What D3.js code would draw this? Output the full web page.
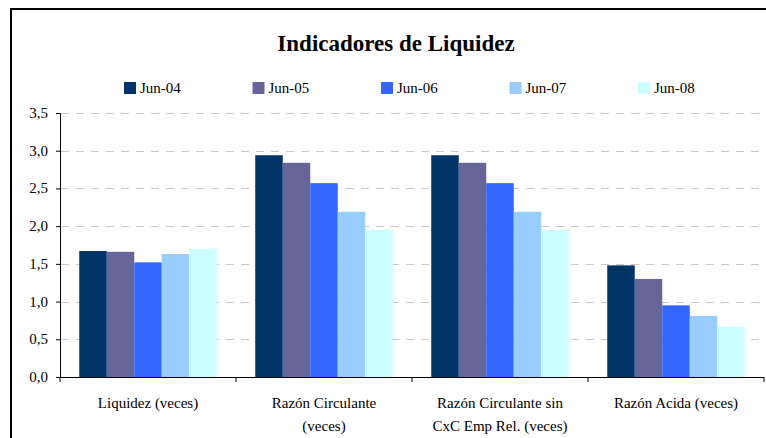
<!DOCTYPE html>
<html>
<head>
<meta charset="utf-8">
<script src="https://cdn.jsdelivr.net/npm/d3@7"></script>
</head>
<body style="margin:0;background:#fff">
<div id="chart"></div>
<script>
// data
const categories = [
  ["Liquidez (veces)"],
  ["Razón Circulante", "(veces)"],
  ["Razón Circulante sin", "CxC Emp Rel. (veces)"],
  ["Razón Acida (veces)"]
];
const seriesNames = ["Jun-04", "Jun-05", "Jun-06", "Jun-07", "Jun-08"];
const seriesColors = ["#003366", "#666699", "#3366ff", "#99ccff", "#ccffff"];
const jun04 = [1.67, 2.94, 2.94, 1.48];
const jun05 = [1.66, 2.84, 2.84, 1.30];
const jun06 = [1.52, 2.57, 2.57, 0.95];
const jun07 = [1.63, 2.19, 2.19, 0.81];
const jun08 = [1.70, 1.95, 1.95, 0.67];
const yTicks = [0, 0.5, 1, 1.5, 2, 2.5, 3, 3.5];

const values = [jun04, jun05, jun06, jun07, jun08];
const W = 766, H = 438;
const plotLeft = 60, plotRight = 764, plotTop = 113, plotBottom = 377;
const serif = '"Tinos", "Liberation Serif", monospace';

const svg = d3.select("#chart").append("svg")
    .attr("width", W)
    .attr("height", H)
    .style("display", "block");

// outer frame (only left and top visible)
svg.append("path")
    .attr("d", `M11,${H + 5} L11,9 L${W + 5},9`)
    .attr("fill", "none")
    .attr("stroke", "#000")
    .attr("stroke-width", 2);

const catIdx = categories.map((c, i) => i);
const x0 = d3.scaleBand().domain(catIdx).range([plotLeft, plotRight]).padding(0);
const x1 = d3.scaleBand().domain(seriesNames).range([0, x0.bandwidth()])
    .paddingInner(0).paddingOuter(0.7);
const y = d3.scaleLinear().domain([0, 3.5]).range([plotBottom, plotTop]);

const locale = d3.formatLocale({ decimal: ",", thousands: ".", grouping: [3], currency: ["", ""] });
const fmt = locale.format(".1f");

// gridlines
svg.append("g")
  .selectAll("line")
  .data(yTicks.filter(d => d > 0))
  .enter()
  .append("line")
    .attr("x1", plotLeft + 1)
    .attr("x2", 760)
    .attr("y1", d => Math.round(y(d)) + 0.5)
    .attr("y2", d => Math.round(y(d)) + 0.5)
    .attr("stroke", "#c8c8c8")
    .attr("stroke-width", 1)
    .attr("stroke-dasharray", "8,7");

// bars
const groups = svg.append("g")
  .selectAll("g")
  .data(seriesNames)
  .enter()
  .append("g")
    .attr("fill", (d, i) => seriesColors[i]);

groups.selectAll("rect")
  .data((s, si) => values[si].map((v, ci) => ({ s, ci, v })))
  .enter()
  .append("rect")
    .attr("x", d => x0(d.ci) + x1(d.s))
    .attr("y", d => y(d.v))
    .attr("width", x1.bandwidth())
    .attr("height", d => y(0) - y(d.v));

// y axis: drawn with d3.axisLeft, labels as separate texts
const yAxis = svg.append("g")
    .attr("transform", `translate(${plotLeft},0)`)
    .call(d3.axisLeft(y).tickValues(yTicks).tickFormat("").tickSizeOuter(0).tickSize(4));
yAxis.select(".domain").attr("stroke", "#000");

svg.append("g")
  .selectAll("text")
  .data(yTicks)
  .enter()
  .append("text")
    .attr("x", plotLeft - 12)
    .attr("y", d => y(d) + 5)
    .attr("text-anchor", "end")
    .attr("font-family", serif)
    .attr("font-size", 15)
    .style("font-family", serif)
    .text(d => fmt(d));

// x axis line with group separators
const xAxis = svg.append("g");
xAxis.append("line")
    .attr("x1", plotLeft).attr("x2", plotRight)
    .attr("y1", plotBottom + 0.5).attr("y2", plotBottom + 0.5)
    .attr("stroke", "#000");
xAxis.selectAll("line.tick")
  .data(catIdx.concat([categories.length]))
  .enter()
  .append("line")
    .attr("class", "tick")
    .attr("x1", d => d < categories.length ? x0(d) : plotRight)
    .attr("x2", d => d < categories.length ? x0(d) : plotRight)
    .attr("y1", plotBottom)
    .attr("y2", plotBottom + 5)
    .attr("stroke", "#000");

// category labels
const labels = svg.append("g")
  .selectAll("text")
  .data(categories)
  .enter()
  .append("text")
    .attr("x", (d, i) => x0(i) + x0.bandwidth() / 2)
    .attr("y", 408)
    .attr("text-anchor", "middle")
    .attr("fill", "#000")
    .attr("font-family", serif)
    .attr("font-size", 15)
    .style("font-family", serif);
labels.selectAll("tspan")
  .data(d => d)
  .enter()
  .append("tspan")
    .attr("x", function () { return d3.select(this.parentNode).attr("x"); })
    .attr("dy", (d, i) => i === 0 ? 0 : 23)
    .text(d => d);

// title
svg.append("text")
    .attr("x", 396)
    .attr("y", 51)
    .attr("text-anchor", "middle")
    .attr("font-family", serif)
    .attr("font-size", 23)
    .attr("font-weight", "bold")
    .style("font-family", serif)
    .text("Indicadores de Liquidez");

// legend
const legend = svg.append("g")
  .selectAll("g")
  .data(seriesNames)
  .enter()
  .append("g")
    .attr("transform", (d, i) => `translate(${124 + i * 128.5},82)`);
legend.append("rect")
    .attr("width", 12)
    .attr("height", 12)
    .attr("fill", (d, i) => seriesColors[i]);
legend.append("text")
    .attr("x", 16)
    .attr("y", 11)
    .attr("font-family", serif)
    .attr("font-size", 15)
    .style("font-family", serif)
    .text(d => d);
</script>
</body>
</html>
